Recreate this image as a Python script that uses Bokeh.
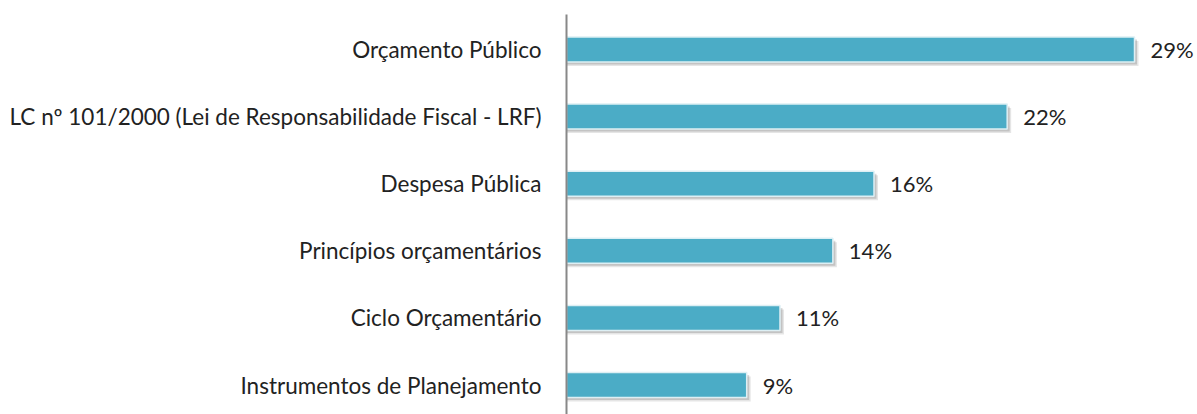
from bokeh.plotting import figure
from bokeh.models import Range1d, FixedTicker, ColumnDataSource, LabelSet
from bokeh.core.properties import value
from bokeh.embed import file_html
from bokeh.resources import INLINE

categories = [
    "Orçamento Público",
    "LC nº 101/2000 (Lei de Responsabilidade Fiscal - LRF)",
    "Despesa Pública",
    "Princípios orçamentários",
    "Ciclo Orçamentário",
    "Instrumentos de Planejamento",
]
values = [0.290, 0.225, 0.157, 0.136, 0.109, 0.092]
value_labels = ["29%", "22%", "16%", "14%", "11%", "9%"]

FONT = "Lato"
TEXT_COLOR = "#222222"
BAR_COLOR = "#4BACC6"

ypos = list(range(len(categories)))
px_per_unit_y = 67.1
px_per_unit_x = 568 / 0.29

src = ColumnDataSource(dict(
    y=ypos,
    v=values,
    lab=value_labels,
    ys1=[y + 2.5 / px_per_unit_y for y in ypos],
    vs1=[v + 2.5 / px_per_unit_x for v in values],
    ys2=[y + 4.0 / px_per_unit_y for y in ypos],
    vs2=[v + 4.0 / px_per_unit_x for v in values],
))

H = 414
TOP = 14
frame_h = H - TOP
top_units = (49 - TOP) / px_per_unit_y
p = figure(
    width=1197, height=H,
    output_backend="svg", toolbar_location=None,
    x_range=Range1d(0, 631 / px_per_unit_x),
    y_range=Range1d(frame_h / px_per_unit_y - top_units, -top_units),
    min_border_left=566, min_border_right=0, min_border_top=TOP, min_border_bottom=0,
)
p.outline_line_color = None
p.grid.visible = False
p.xaxis.visible = False
p.background_fill_color = "white"
p.border_fill_color = "white"

bh = 25 / px_per_unit_y
# soft shadow
p.hbar(y="ys2", right="vs2", left=0, height=bh, source=src,
       fill_color="#000000", fill_alpha=0.10, line_color=None)
p.hbar(y="ys1", right="vs1", left=0, height=bh, source=src,
       fill_color="#000000", fill_alpha=0.15, line_color=None)
p.hbar(y="y", right="v", left=0, height=bh, source=src,
       fill_color=BAR_COLOR, line_color="#DDEFF4", line_width=1.5)

labels = LabelSet(x="v", y="y", text="lab", source=src,
                  x_offset=16, y_offset=0,
                  text_font=value(FONT), text_font_size="22px",
                  text_color=TEXT_COLOR, text_baseline="middle")
p.add_layout(labels)

yax = p.yaxis[0]
yax.ticker = FixedTicker(ticks=ypos)
yax.major_label_overrides = {i: c for i, c in zip(ypos, categories)}
yax.major_tick_line_color = None
yax.minor_tick_line_color = None
yax.axis_line_color = "#888888"
yax.axis_line_width = 2
yax.major_label_standoff = 19
yax.major_label_text_font = FONT
yax.major_label_text_font_size = "22.5px"
yax.major_label_text_color = TEXT_COLOR

open("out.html", "w").write(file_html(p, INLINE))
